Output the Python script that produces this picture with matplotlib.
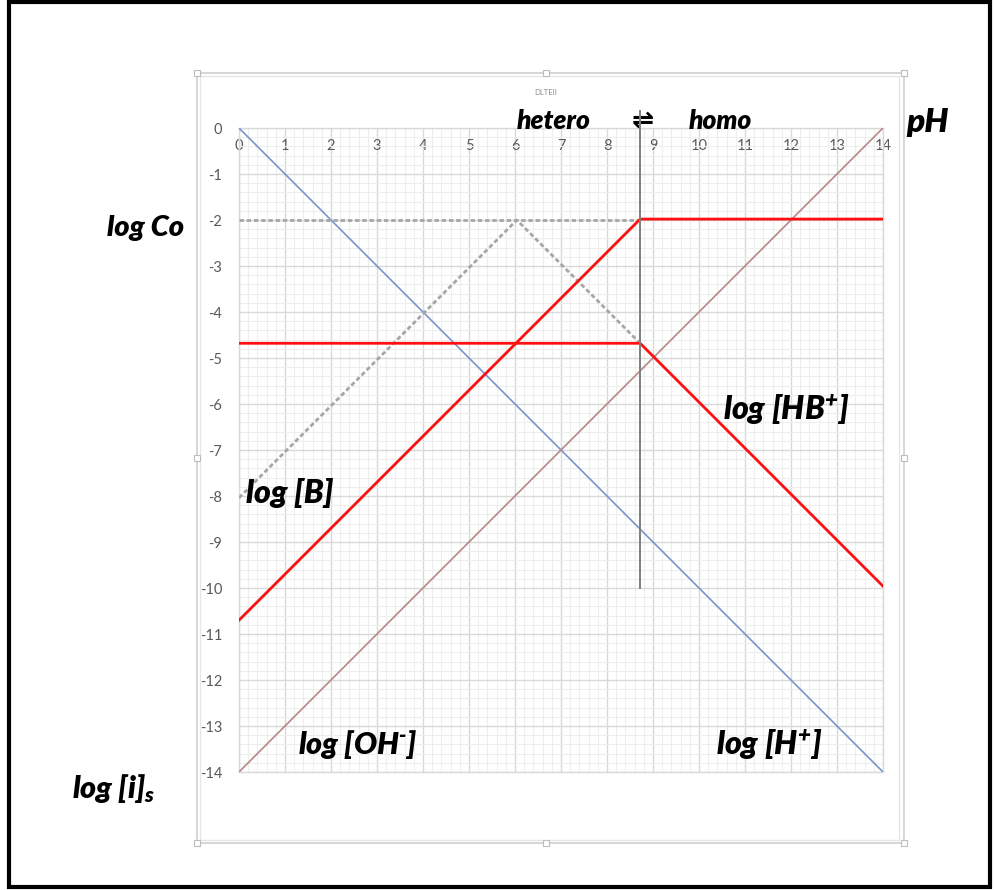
import matplotlib
matplotlib.use("Agg")
import matplotlib.pyplot as plt
from matplotlib.patches import Rectangle
from matplotlib.ticker import MultipleLocator

plt.rcParams['axes.unicode_minus'] = False
plt.rcParams['mathtext.fontset'] = 'custom'
plt.rcParams['mathtext.rm'] = 'Lato:italic:heavy'
plt.rcParams['mathtext.it'] = 'Lato:italic:heavy'
plt.rcParams['mathtext.bf'] = 'Lato:italic:heavy'

# ---- data -------------------------------------------------------------
ph_ticks = list(range(0, 15))
log_ticks = list(range(0, -15, -1))

# log[H+] and log[OH-]
h_ph = [0, 14]
h_log = [0, -14]
oh_ph = [0, 14]
oh_log = [-14, 0]

# hypothetical (dashed) curves
co_ph = [0, 8.72]
co_log = [-2, -2]
tri_ph = [0, 6.04, 8.72]
tri_log = [-8.04, -2, -4.68]

# real log[B] and log[HB+]
b_ph = [0, 8.72, 14]
b_log = [-10.7, -1.98, -1.98]
hb_ph = [0, 8.72, 14]
hb_log = [-4.68, -4.68, -9.96]

# hetero / homo boundary
bound_ph = [8.72, 8.72]
bound_log = [-10, 0.38]

W, H = 994, 890
fig = plt.figure(figsize=(W / 100, H / 100), dpi=100)

def fx(px):
    return px / W

def fy(py):
    return 1 - py / H

# outer black frame
fig.patches.append(Rectangle((fx(9), fy(887)), fx(990) - fx(9), fy(2) - fy(887),
                             transform=fig.transFigure, fill=False,
                             edgecolor='black', linewidth=3))
# chart area frame
fig.patches.append(Rectangle((fx(197), fy(843)), fx(904) - fx(197), fy(73) - fy(843),
                             transform=fig.transFigure, fill=False,
                             edgecolor='#cfcfcf', linewidth=1.2))
fig.patches.append(Rectangle((fx(200), fy(840)), fx(899) - fx(200), fy(76) - fy(840),
                             transform=fig.transFigure, fill=False,
                             edgecolor='#e6e6e6', linewidth=1.0))
for hx, hy in [(197, 73), (546, 73), (904, 73), (197, 458), (904, 458),
               (197, 843), (546, 843), (904, 843)]:
    fig.patches.append(Rectangle((fx(hx - 3), fy(hy + 3)), fx(6), 6 / H,
                                 transform=fig.transFigure, facecolor='white',
                                 edgecolor='#bdbdbd', linewidth=0.8, zorder=5))

ax = fig.add_axes([fx(239), fy(772), fx(883) - fx(239), fy(128) - fy(772)])
ax.set_xlim(0, 14)
ax.set_ylim(-14, 0)

ax.xaxis.set_major_locator(MultipleLocator(1))
ax.xaxis.set_minor_locator(MultipleLocator(0.2))
ax.yaxis.set_major_locator(MultipleLocator(1))
ax.yaxis.set_minor_locator(MultipleLocator(0.2))
ax.grid(which='major', color='#d9d9d9', linewidth=1.0)
ax.grid(which='minor', color='#eeeeee', linewidth=0.8)
ax.set_axisbelow(True)

ax.set_xticks(ph_ticks)
ax.set_xticklabels([str(v) for v in ph_ticks])
ax.set_yticks(log_ticks)
ax.set_yticklabels([str(v) for v in log_ticks])
ax.xaxis.tick_top()
ax.tick_params(axis='x', which='both', length=0, pad=-18, labelsize=10.5,
               labelcolor='#595959')
ax.tick_params(axis='y', which='both', length=0, pad=12, labelsize=10.5,
               labelcolor='#595959')
for lab in ax.get_xticklabels() + ax.get_yticklabels():
    lab.set_family('Lato')
for sp in ax.spines.values():
    sp.set_color('#d9d9d9')
    sp.set_linewidth(1.0)

ax.plot(h_ph, h_log, color='#7b93cf', linewidth=1.2, zorder=3)
ax.plot(oh_ph, oh_log, color='#b98686', linewidth=1.2, zorder=3)
ax.plot(co_ph, co_log, color='#a6a6a6', linewidth=2.0, linestyle=(0, (1.6, 1.0)), zorder=3)
ax.plot(tri_ph, tri_log, color='#a6a6a6', linewidth=2.0, linestyle=(0, (1.6, 1.0)), zorder=3)
ax.plot(b_ph, b_log, color='#ff1010', linewidth=2.0, zorder=4)
ax.plot(hb_ph, hb_log, color='#ff1010', linewidth=2.0, zorder=4)
ax.plot(bound_ph, bound_log, color='#7f7f7f', linewidth=1.4, zorder=4, clip_on=False)

lbl = dict(family='Lato', weight='heavy', style='italic', color='black')
ax.text(-1.2, -2.17, 'log Co', ha='right', va='center', fontsize=21, clip_on=False, **lbl)
ax.text(-3.63, -14.35, r'log [i]$_{\mathregular{s}}$', ha='left', va='center',
        fontsize=22, clip_on=False, **lbl)
ax.text(14.5, 0.13, 'pH', ha='left', va='center', fontsize=24, clip_on=False, **lbl)
ax.text(6.85, 0.15, 'hetero', ha='center', va='center', fontsize=19, clip_on=False, **lbl)
ax.text(8.78, 0.17, '\u21cc', ha='center', va='center', fontsize=19, clip_on=False,
        family='DejaVu Sans', weight='bold', color='black')
ax.text(10.46, 0.15, 'homo', ha='center', va='center', fontsize=19, clip_on=False, **lbl)
ax.text(6.67, 0.78, 'DLTEII', ha='center', va='center', fontsize=5.5, clip_on=False,
        family='Lato', color='#8c8c8c')
ax.text(1.11, -7.93, 'log [B]', ha='center', va='center', fontsize=23, **lbl)
ax.text(11.89, -6.13, r'log [HB$^{\mathregular{+}}$]', ha='center', va='center', fontsize=23, **lbl)
ax.text(2.59, -13.41, r'log [OH$^{\text{-}}$]', ha='center', va='center', fontsize=22, **lbl)
ax.text(11.52, -13.41, r'log [H$^{\mathregular{+}}$]', ha='center', va='center', fontsize=23, **lbl)

fig.savefig('out.png', dpi=100)
